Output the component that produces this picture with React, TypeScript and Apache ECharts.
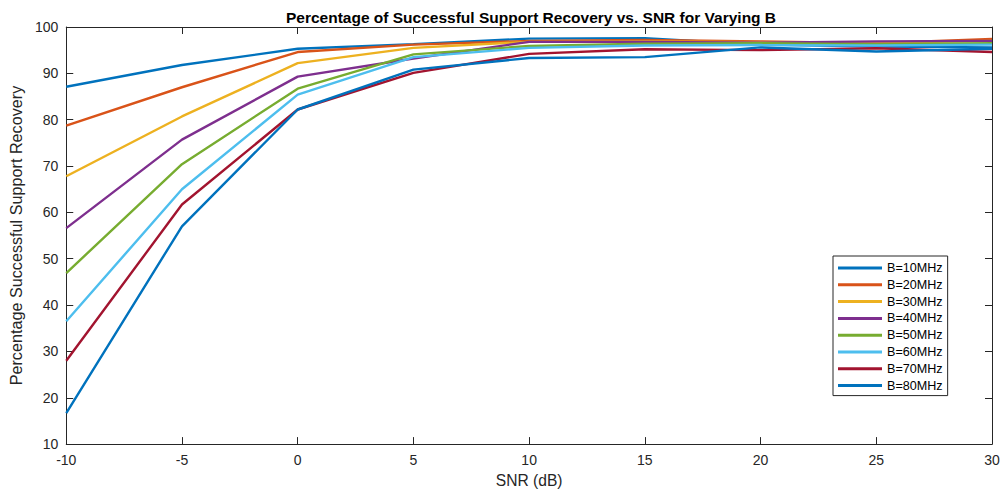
import React, { useEffect, useRef } from "react";
import * as echarts from "echarts";

const snr = [-10, -5, 0, 5, 10, 15, 20, 25, 30];
const seriesNames = ["B=10MHz", "B=20MHz", "B=30MHz", "B=40MHz", "B=50MHz", "B=60MHz", "B=70MHz", "B=80MHz"];
const b10 = [87.1, 91.8, 95.3, 96.3, 97.5, 97.6, 96.2, 95.8, 95.6];
const b20 = [78.7, 87.0, 94.6, 96.2, 97.0, 97.2, 96.9, 96.5, 97.4];
const b30 = [67.8, 80.7, 92.2, 95.5, 96.8, 96.9, 96.7, 96.6, 97.0];
const b40 = [56.6, 75.7, 89.3, 93.2, 96.8, 96.8, 96.6, 96.9, 97.0];
const b50 = [46.9, 70.4, 86.7, 94.1, 95.9, 96.4, 96.5, 96.3, 96.5];
const b60 = [36.5, 65.0, 85.4, 93.5, 95.5, 96.0, 96.1, 96.0, 96.2];
const b70 = [28.0, 61.7, 82.2, 90.1, 94.2, 95.2, 95.0, 95.4, 94.6];
const b80 = [16.7, 57.0, 82.2, 90.8, 93.3, 93.5, 95.6, 94.7, 95.3];
const allValues = [b10, b20, b30, b40, b50, b60, b70, b80];
const colors = ["#0072BD", "#D95319", "#EDB120", "#7E2F8E", "#77AC30", "#4DBEEE", "#A2142F", "#0072BD"];

const FONT = "'Liberation Sans', Arial, Helvetica, sans-serif";
const AX = "#262626";

export default function App() {
  const ref = useRef<HTMLDivElement>(null);
  useEffect(() => {
    if (!ref.current) return;
    const chart = echarts.init(ref.current, null, { renderer: "svg" });
    const axisCommon = {
      axisLine: { show: true, onZero: false, lineStyle: { color: AX, width: 1 } },
      axisTick: { show: true, inside: true, length: 7, lineStyle: { color: AX, width: 1 } },
      splitLine: { show: false },
    };
    chart.setOption({
      animation: false,
      backgroundColor: "#ffffff",
      textStyle: { fontFamily: FONT },
      title: {
        text: "Percentage of Successful Support Recovery vs. SNR for Varying B",
        left: 526,
        top: 4,
        textAlign: "center",
        textStyle: { fontFamily: FONT, fontSize: 15.5, fontWeight: "bold", color: "#000" },
      },
      grid: { left: 61, top: 27, right: 11, bottom: 47, containLabel: false },
      legend: {
        orient: "vertical",
        left: 833,
        top: 256,
        data: seriesNames,
        icon: "rect",
        itemWidth: 44,
        itemHeight: 3,
        itemGap: 2.8,
        padding: [5, 5, 3, 5],
        backgroundColor: "#ffffff",
        borderColor: AX,
        borderWidth: 1,
        borderRadius: 0,
        textStyle: { fontFamily: FONT, fontSize: 12.6, color: "#000", lineHeight: 14 },
      },
      xAxis: [
        {
          type: "value",
          min: -10,
          max: 30,
          interval: 5,
          position: "bottom",
          ...axisCommon,
          axisLabel: { color: AX, fontSize: 14, margin: 9, fontFamily: FONT },
          name: "SNR (dB)",
          nameLocation: "middle",
          nameGap: 27,
          nameTextStyle: { color: AX, fontSize: 15.6, fontFamily: FONT },
        },
        {
          type: "value",
          min: -10,
          max: 30,
          interval: 5,
          position: "top",
          ...axisCommon,
          axisLabel: { show: false },
        },
      ],
      yAxis: [
        {
          type: "value",
          min: 10,
          max: 100,
          interval: 10,
          position: "left",
          ...axisCommon,
          axisLabel: { color: AX, fontSize: 14, margin: 8, fontFamily: FONT },
          name: "Percentage Successful Support Recovery",
          nameLocation: "middle",
          nameGap: 36,
          nameRotate: 90,
          nameTextStyle: { color: AX, fontSize: 16.2, fontFamily: FONT },
        },
        {
          type: "value",
          min: 10,
          max: 100,
          interval: 10,
          position: "right",
          ...axisCommon,
          axisLabel: { show: false },
        },
      ],
      series: allValues.map((vals, i) => ({
        name: seriesNames[i],
        type: "line",
        xAxisIndex: 0,
        yAxisIndex: 0,
        data: snr.map((x, j) => [x, vals[j]]),
        showSymbol: false,
        symbol: "none",
        color: colors[i],
        lineStyle: { color: colors[i], width: 2.4 },
        itemStyle: { color: colors[i] },
      })),
    });
    return () => chart.dispose();
  }, []);
  return (
    <div
      ref={ref}
      style={{ position: "fixed", left: 0, top: 0, width: 1003, height: 493, background: "#fff" }}
    />
  );
}
